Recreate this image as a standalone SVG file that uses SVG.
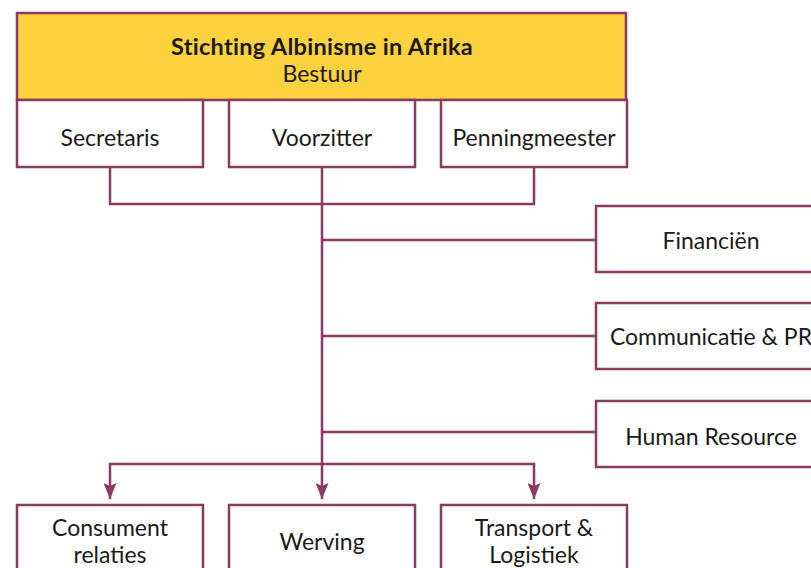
<svg xmlns="http://www.w3.org/2000/svg" width="811" height="568" viewBox="0 0 811 568">
<defs>
<style>
.box{fill:#ffffff;stroke:#8a3b5f;stroke-width:2.5}
.head{fill:#fed23f;stroke:#8a3b5f;stroke-width:2.5}
.t{font-family:Lato,"Noto Sans",sans-serif;font-size:23px;fill:#1a1a1a;text-anchor:middle}
.b{font-weight:bold;font-size:23.5px;letter-spacing:0.3px}
.c{fill:none;stroke:#8a3b5f;stroke-width:2.5}
</style>
<marker id="ah" viewBox="0 0 16 13" refX="16" refY="6.5" markerWidth="16" markerHeight="13" markerUnits="userSpaceOnUse" orient="auto">
<path d="M0,0 L16,6.5 L0,13 L3,6.5 Z" fill="#8a3b5f"/>
</marker>
</defs>
<rect width="811" height="568" fill="#ffffff"/>
<g id="connectors">
<path class="c" d="M110,167 V204 H534 V167"/>
<path class="c" d="M322,167 V499" marker-end="url(#ah)"/>
<path class="c" d="M322,240 H596"/>
<path class="c" d="M322,336 H596"/>
<path class="c" d="M322,432 H596"/>
<path class="c" d="M322,464 H110 V499" marker-end="url(#ah)"/>
<path class="c" d="M322,464 H534 V499" marker-end="url(#ah)"/>
</g>
<g id="bestuur">
<rect class="head" x="17" y="13" width="609" height="87"/>
<text class="t b" x="322" y="55">Stichting Albinisme in Afrika</text>
<text class="t" x="322" y="82">Bestuur</text>
</g>
<g id="secretaris">
<rect class="box" x="17" y="100" width="186" height="67"/>
<text class="t" x="110" y="146">Secretaris</text>
</g>
<g id="voorzitter">
<rect class="box" x="229" y="100" width="186" height="67"/>
<text class="t" x="322" y="146">Voorzitter</text>
</g>
<g id="penningmeester">
<rect class="box" x="441" y="100" width="186" height="67"/>
<text class="t" x="534" y="146">Penningmeester</text>
</g>
<g id="financien">
<rect class="box" x="596" y="206" width="232" height="66"/>
<text class="t" x="711" y="249">Financiën</text>
</g>
<g id="communicatie">
<rect class="box" x="596" y="303" width="232" height="66"/>
<text class="t" x="711" y="345">Communicatie &amp; PR</text>
</g>
<g id="hr">
<rect class="box" x="596" y="401" width="232" height="66"/>
<text class="t" x="711" y="445">Human Resource</text>
</g>
<g id="consument">
<rect class="box" x="17" y="505" width="186" height="80"/>
<text class="t" x="110" y="536">Consument</text>
<text class="t" x="110" y="563">relaties</text>
</g>
<g id="werving">
<rect class="box" x="229" y="505" width="186" height="80"/>
<text class="t" x="322" y="550">Werving</text>
</g>
<g id="transport">
<rect class="box" x="441" y="505" width="186" height="80"/>
<text class="t" x="534" y="536">Transport &amp;</text>
<text class="t" x="534" y="563">Logistiek</text>
</g>
</svg>
